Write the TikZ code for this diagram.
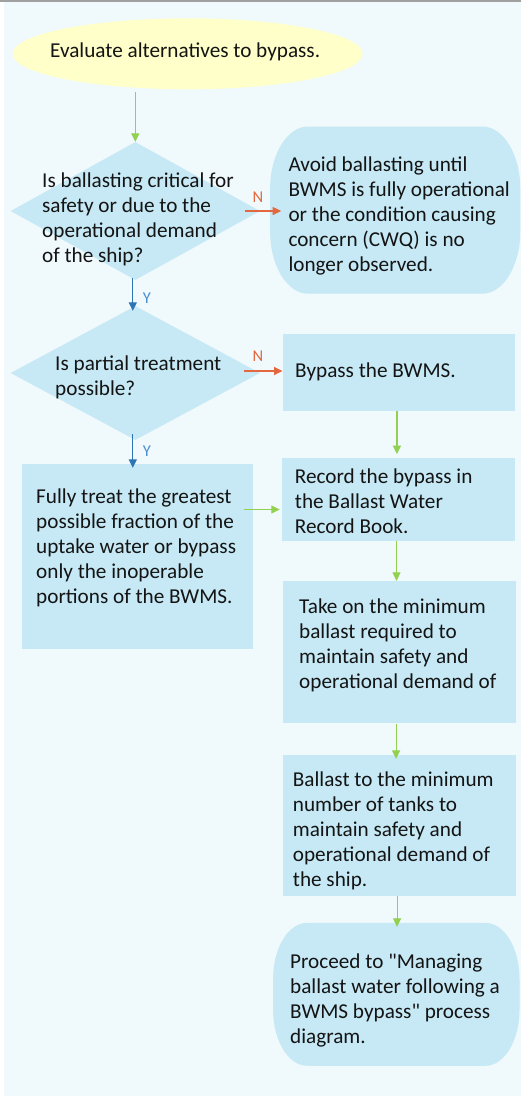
\documentclass[tikz,border=0pt]{standalone}
\usepackage{fontspec}
\setmainfont{Carlito}
\usetikzlibrary{arrows.meta,shapes.geometric,calc}
\definecolor{bgc}{HTML}{F0F9FC}
\definecolor{boxc}{HTML}{C6E9F5}
\definecolor{yelc}{HTML}{FFFFC9}
\definecolor{grnc}{HTML}{92D050}
\definecolor{bluc}{HTML}{2E75B6}
\definecolor{redc}{HTML}{E4683F}
\definecolor{ylab}{HTML}{4A8FD0}
\definecolor{txtc}{HTML}{141414}
\definecolor{topc}{HTML}{A0A0A0}
\newcommand\stadiumfill[3]{%
  \fill[boxc] ($(#1.north west)+(#2,0)$) -- ($(#1.north east)+(-#2,0)$)
    arc[start angle=90,end angle=0,x radius=#2,y radius=#3]
    -- ($(#1.south east)+(0,#3)$)
    arc[start angle=0,end angle=-90,x radius=#2,y radius=#3]
    -- ($(#1.south west)+(#2,0)$)
    arc[start angle=270,end angle=180,x radius=#2,y radius=#3]
    -- ($(#1.north west)+(0,-#3)$)
    arc[start angle=180,end angle=90,x radius=#2,y radius=#3] -- cycle;}
\begin{document}
\begin{tikzpicture}[x=1pt,y=1pt,
  shapebox/.style={rectangle,fill=boxc,draw=none,inner sep=0pt,minimum width=#1},
  frame/.style={rectangle,draw=none,fill=none,inner sep=0pt,minimum width=#1},
  decision/.style={diamond,fill=boxc,draw=none,inner sep=0pt,minimum width=249.3pt},
  txt/.style={anchor=base west,inner sep=0pt,align=left,text=txtc,font=\fontsize{21.2}{25}\selectfont},
  lab/.style={anchor=base,inner sep=0pt,font=\fontsize{16.5}{18}\selectfont},
  conn/.style={line width=1.2pt,-{Triangle[width=8pt,length=8.5pt]}},
  garrow/.style={conn,draw=grnc},
  barrow/.style={conn,draw=bluc},
  rarrow/.style={conn,draw=redc}]
\useasboundingbox (0,0) rectangle (521,-1096);
\fill[bgc] (4,0) rectangle (521,-1096);
\draw[topc,line width=1.5pt] (0,-0.75) -- (521,-0.75);

% shapes
\node[ellipse,fill=yelc,draw=none,inner sep=0pt,minimum width=350pt,minimum height=71pt] (start) at (187.7,-53.8) {};
\node[decision,minimum height=138pt] (d1) at (135.3,-211) {};
\node[frame=249.7pt,minimum height=166.8pt] (avoid) at (395.2,-210.1) {};
\stadiumfill{avoid}{38pt}{62pt}
\node[decision,minimum height=134pt] (d2) at (135.3,-373) {};
\node[shapebox=232.3pt,minimum height=76.7pt] (bypass) at (398.9,-372.4) {};
\node[shapebox=230.7pt,minimum height=185.3pt] (fully) at (137.3,-556.7) {};
\node[shapebox=233pt,minimum height=82.4pt] (record) at (398.5,-499.5) {};
\node[shapebox=232.8pt,minimum height=142.3pt] (takeon) at (399.1,-652.2) {};
\node[shapebox=232.8pt,minimum height=140.7pt] (ballast) at (399.1,-825.4) {};
\node[frame=246pt,minimum height=142.5pt] (proceed) at (396.3,-994.3) {};
\stadiumfill{proceed}{34pt}{56pt}

% texts (anchor = baseline of the last line)
\node[txt] (startT) at (50,-57.3) {Evaluate alternatives to bypass.};
\node[txt] (d1T) at (42,-262.3) {Is ballasting critical for\\safety or due to the\\operational demand\\of the ship?};
\node[txt] (avoidT) at (288.3,-271.7) {Avoid ballasting until\\BWMS is fully operational\\or the condition causing\\concern (CWQ) is no\\longer observed.};
\node[txt] (d2T) at (55,-395.5) {Is partial treatment\\possible?};
\node[txt] (bypassT) at (295,-377.3) {Bypass the BWMS.};
\node[txt] (fullyT) at (36,-603.3) {Fully treat the greatest\\possible fraction of the\\uptake water or bypass\\only the inoperable\\portions of the BWMS.};
\node[txt] (recordT) at (294.7,-533.3) {Record the bypass in\\the Ballast Water\\Record Book.};
\node[txt] (takeonT) at (299,-688.3) {Take on the minimum\\ballast required to\\maintain safety and\\operational demand of};
\node[txt] (ballastT) at (292.7,-886.7) {Ballast to the minimum\\number of tanks to\\maintain safety and\\operational demand of\\the ship.};
\node[txt] (proceedT) at (290,-1043.3) {Proceed to \textquotedbl Managing\\ballast water following a\\BWMS bypass\textquotedbl{} process\\diagram.};

% labels
\node[lab,text=redc] (n1) at (258,-202.7) {N};
\node[lab,text=redc] (n2) at (258,-361.7) {N};
\node[lab,text=ylab] (y1) at (147,-303.5) {Y};
\node[lab,text=ylab] (y2) at (147,-456.7) {Y};

% connectors
\draw[garrow] ([yshift=-2.5pt]d1.north |- start.south) -- (d1.north);
\draw[rarrow] ([xshift=-15pt]d1.east) -- ([xshift=11pt]avoid.west |- d1.east);
\draw[barrow] ([xshift=-2.5pt,yshift=2pt]d1.south) -- ([xshift=-2.5pt,yshift=-5pt]d2.north);
\draw[rarrow] ([xshift=-16pt,yshift=2pt]d2.east) -- ([yshift=2pt]bypass.west |- d2.east);
\draw[barrow] ([xshift=-2.5pt,yshift=6pt]d2.south) -- ([xshift=-2.5pt,yshift=-4pt]fully.north -| d2.south);
\draw[garrow] ($(record.west -| fully.east)+(-9pt,-10pt)$) -- ($(record.west)+(-2pt,-10pt)$);
\draw[garrow] ([xshift=-2pt]bypass.south) -- ([xshift=-2pt,yshift=4pt]record.north -| bypass.south);
\draw[garrow] ([xshift=-2pt]record.south) -- ([xshift=-2pt]takeon.north -| record.south);
\draw[garrow] ([xshift=-3pt]takeon.south) -- ([xshift=-3pt,yshift=-4pt]ballast.north -| takeon.south);
\draw[garrow] ([xshift=-2pt]ballast.south) -- ([xshift=-2pt,yshift=-4pt]proceed.north -| ballast.south);
\end{tikzpicture}
\end{document}
